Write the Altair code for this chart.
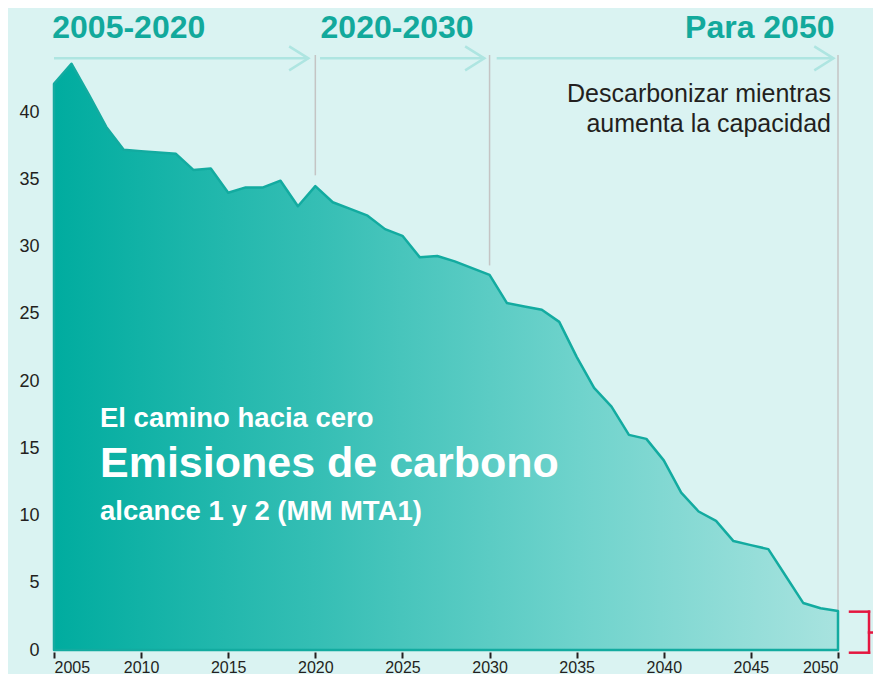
import altair as alt
import pandas as pd

# ---------------- data ----------------
years = list(range(2005, 2051))
emissions = [42.1, 43.6, 41.3, 38.9, 37.2, 37.1, 37.0, 36.9, 35.7, 35.8,
             34.0, 34.4, 34.4, 34.9, 33.0, 34.5, 33.3, 32.8, 32.3, 31.3,
             30.8, 29.2, 29.3, 28.9, 28.4, 27.9, 25.8, 25.55, 25.3, 24.4,
             21.8, 19.5, 18.1, 16.0, 15.7, 14.1, 11.7, 10.3, 9.6, 8.1,
             7.8, 7.5, 5.5, 3.5, 3.1, 2.9]
x_ticks = [2005, 2010, 2015, 2020, 2025, 2030, 2035, 2040, 2045, 2050]
y_ticks = [0, 5, 10, 15, 20, 25, 30, 35, 40]

# period headings
left_titles = ["2005-2020", "2020-2030"]
left_titles_x = [2004.9, 2020.3]
right_titles = ["Para 2050"]
right_titles_x = [2049.8]
title_y = 45.54

# arrows over each period
arrow_start = [2005.0, 2020.27, 2030.41]
arrow_end = [2019.6, 2029.7, 2049.74]
arrow_y = 44.0

# grey period dividers
divider_x = [2020, 2030, 2050]
divider_top = 44.25
divider_bottom = [35.3, 28.6, 0.0]

# note under "Para 2050"
note_lines = ["Descarbonizar mientras", "aumenta la capacidad"]
note_x = 2049.6
note_y = [40.78, 38.55]

# white overlay titles
overlay_lines = ["El camino hacia cero", "Emisiones de carbono", "alcance 1 y 2 (MM MTA1)"]
overlay_sizes = [27.5, 43, 27.5]
overlay_x = 2007.64
overlay_y = [16.6, 12.86, 9.67]

# red bracket (residual 2050 emissions)
bracket_x1 = [2050.69, 2051.78, 2050.69, 2051.78, 2052.36]
bracket_x2 = [2051.78, 2051.78, 2051.78, 2052.36, 2052.36]
bracket_y1 = [2.85, 2.85, -0.2, 1.3, 1.3]
bracket_y2 = [2.85, -0.2, -0.2, 1.3, -4.0]

# ---------------- styling ----------------
BG = "#DAF3F2"
TEAL = "#12A99C"
LINE = "#13ABA0"
ARROW = "#AEE5E1"
GREY = "#C4C4C4"
RED = "#E4163F"
FONT = "Liberation Sans"

xs = alt.Scale(domain=[2005, 2050], nice=False, zero=False)
ys = alt.Scale(domain=[0, 47], nice=False, zero=True)
x_axis = alt.Axis(values=x_ticks, format="d", domain=False, grid=False,
                  tickColor="#231F20", tickWidth=2, tickSize=6, tickOffset=0,
                  labelFontSize=16, labelColor="#231F20", labelFont=FONT,
                  labelPadding=1, offset=2)
y_axis = alt.Axis(values=y_ticks, domain=False, grid=False, ticks=False,
                  labelFontSize=18, labelColor="#231F20", labelFont=FONT,
                  labelPadding=15)


def X(field):
    return alt.X(field, type="quantitative", scale=xs, axis=x_axis, title=None)


def Y(field):
    return alt.Y(field, type="quantitative", scale=ys, axis=y_axis, title=None)


df = pd.DataFrame({"year": years, "emissions": emissions})

gradient = alt.Gradient(
    gradient="linear",
    stops=[alt.GradientStop(color="#00AC9F", offset=0),
           alt.GradientStop(color="#34BEB4", offset=0.33),
           alt.GradientStop(color="#6FD3CC", offset=0.67),
           alt.GradientStop(color="#A8E3DF", offset=1)],
    x1=0, x2=1, y1=0, y2=0)

area = alt.Chart(df).mark_area(
    color=gradient, stroke=LINE, strokeWidth=2.5, strokeJoin="round"
).encode(x=X("year"), y=Y("emissions"))

div_df = pd.DataFrame({"x": divider_x, "top": [divider_top] * 3, "bottom": divider_bottom})
dividers = alt.Chart(div_df).mark_rule(color=GREY, strokeWidth=1.5).encode(
    x=X("x"), y=Y("top"), y2="bottom")

arr_df = pd.DataFrame({"x": arrow_start, "x2": arrow_end, "y": [arrow_y] * 3})
arrow_lines = alt.Chart(arr_df).mark_rule(color=ARROW, strokeWidth=2.5).encode(
    x=X("x"), x2="x2", y=Y("y"))
arrow_heads = alt.Chart(arr_df).mark_point(
    shape="M -1.6 -1 L 0 0 L -1.6 1", filled=False, size=576,
    color=ARROW, strokeWidth=2.5, opacity=1
).encode(x=X("x2"), y=Y("y"))

lt_df = pd.DataFrame({"t": left_titles, "x": left_titles_x, "y": [title_y] * 2})
left_title = alt.Chart(lt_df).mark_text(
    align="left", baseline="alphabetic", font=FONT, fontWeight="bold",
    fontSize=32, color=TEAL
).encode(x=X("x"), y=Y("y"), text="t")

rt_df = pd.DataFrame({"t": right_titles, "x": right_titles_x, "y": [title_y]})
right_title = alt.Chart(rt_df).mark_text(
    align="right", baseline="alphabetic", font=FONT, fontWeight="bold",
    fontSize=32, color=TEAL
).encode(x=X("x"), y=Y("y"), text="t")

note_df = pd.DataFrame({"t": note_lines, "x": [note_x] * 2, "y": note_y})
note = alt.Chart(note_df).mark_text(
    align="right", baseline="alphabetic", font=FONT, fontSize=25, color="#231F20"
).encode(x=X("x"), y=Y("y"), text="t")

ov_df = pd.DataFrame({"t": overlay_lines, "x": [overlay_x] * 3, "y": overlay_y, "s": overlay_sizes})
overlay = alt.Chart(ov_df).mark_text(
    align="left", baseline="alphabetic", font=FONT, fontWeight="bold", color="white"
).encode(x=X("x"), y=Y("y"), text="t",
         size=alt.Size("s:Q", scale=None, legend=None))

br_df = pd.DataFrame({"x": bracket_x1, "x2": bracket_x2, "y": bracket_y1, "y2": bracket_y2})
bracket = alt.Chart(br_df).mark_rule(color=RED, strokeWidth=2.5, strokeCap="square").encode(
    x=X("x"), x2="x2", y=Y("y"), y2="y2")

chart = alt.layer(
    dividers, area, arrow_lines, arrow_heads, left_title, right_title, note, overlay, bracket
).properties(
    width=784, height=632,
    autosize=alt.AutoSizeParams(type="none"),
    padding={"left": 46, "top": 10, "right": 35, "bottom": 24},
    background=BG,
).configure_view(stroke=None)

chart.save("out.html", embed_options={"renderer": "svg", "actions": False})
